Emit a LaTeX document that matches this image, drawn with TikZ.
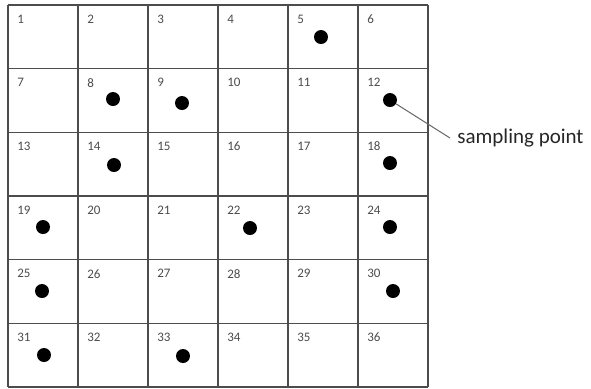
\documentclass[tikz,border=0pt]{standalone}
\usepackage{fontspec}
\setmainfont{Carlito}
\tikzset{
  cellline/.style={line width=0.65pt,draw=black!70},
  cellnum/.style={anchor=west,inner sep=0pt,font=\fontsize{6.5}{7}\selectfont,text=black!70},
  sampdot/.style={circle,fill=black,inner sep=0pt,minimum size=7pt},
  samplbl/.style={anchor=west,inner sep=3.5pt,font=\fontsize{10.5}{12}\selectfont,text=black!85},
  leader/.style={line width=0.5pt,draw=black!60}
}
\begin{document}
\begin{tikzpicture}[x=0.5pt,y=-0.5pt]
  \useasboundingbox (0,0) rectangle (591,388);

  % --- Grille 6 x 6 ---
  \foreach \i in {0,...,6} {
    \draw[cellline] ({8+70*\i},5) -- ({8+70*\i},387);
    \draw[cellline] (8,{5+63.67*\i}) -- (428,{5+63.67*\i});
  }

  % --- Numeros des cellules ---
  \foreach \r in {0,...,5} {
    \foreach \c in {0,...,5} {
      \pgfmathtruncatemacro\n{6*\r+\c+1}
      \node[cellnum] (num\n) at ({17+70*\c},{19+63.67*\r}) {\n};
    }
  }

  % --- Points d'echantillonnage ---
  \foreach \n/\x/\y in {5/321/37, 8/113/99, 9/182/103, 12/390/100, 14/114/165,
      18/390/163, 19/43/227, 22/250/228, 24/390/227, 25/42/291, 30/393/291,
      31/44/355, 33/183/356}
    \node[sampdot] (dot\n) at (\x,\y) {};

  % --- Legende ---
  \node[samplbl] (sampling) at (450,138) {sampling point};
  \draw[leader] (dot12) -- (sampling.west);

\end{tikzpicture}
\end{document}
